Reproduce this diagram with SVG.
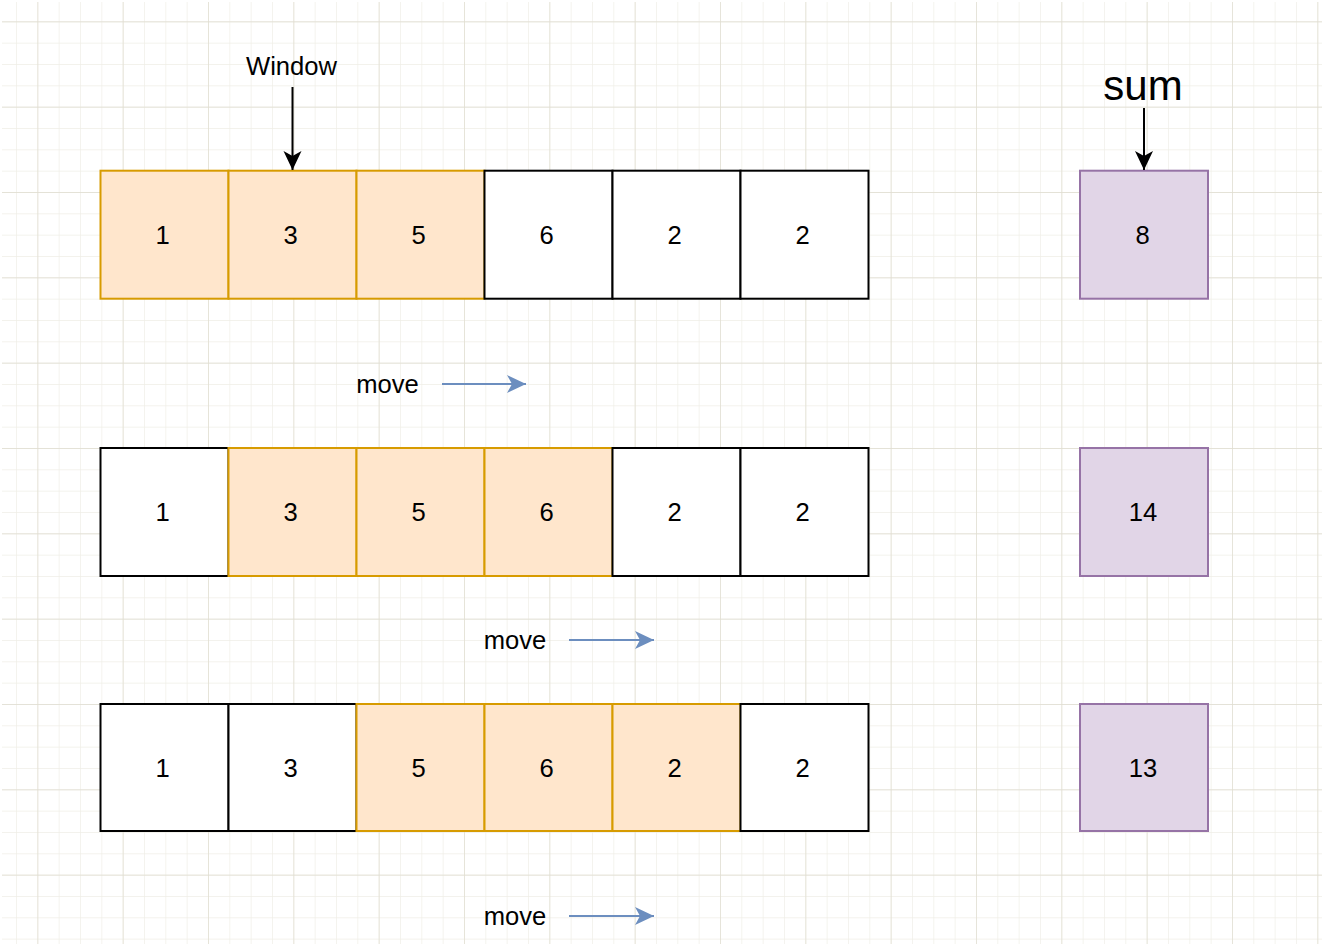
<svg xmlns="http://www.w3.org/2000/svg" width="1332" height="944" viewBox="0 0 1332 944">
  <defs>
    <pattern id="minor" x="37.33" y="21.33" width="21.333" height="21.333" patternUnits="userSpaceOnUse">
      <path d="M0 0 V21.333 M0 0 H21.333" fill="none" stroke="#efeee6" stroke-width="1.3"/>
    </pattern>
    <pattern id="major" x="37.33" y="21.33" width="85.333" height="85.333" patternUnits="userSpaceOnUse">
      <path d="M0 0 V85.333 M0 0 H85.333" fill="none" stroke="#e0ddd1" stroke-width="1.4"/>
    </pattern>
    <marker id="blackHead" viewBox="0 0 20 20" refX="19" refY="10" markerWidth="20" markerHeight="20" markerUnits="userSpaceOnUse" orient="auto">
      <path d="M0 1 L19 10 L0 19 L5 10 Z" fill="#000"/>
    </marker>
    <marker id="blueHead" viewBox="0 0 20 20" refX="19" refY="10" markerWidth="20" markerHeight="20" markerUnits="userSpaceOnUse" orient="auto">
      <path d="M0 1 L19 10 L0 19 L5 10 Z" fill="#6c8ebf"/>
    </marker>
  </defs>
  <style>
    .win { fill: #ffe6cc; stroke: #d79b00; stroke-width: 2; }
    .cell { fill: #ffffff; stroke: #000000; stroke-width: 2; }
    .sum { fill: #e1d5e7; stroke: #9673a6; stroke-width: 2; }
    text { font-family: "Liberation Sans", Arial, Helvetica, sans-serif; fill: #000; }
    .num { font-size: 25.6px; text-anchor: middle; }
    .lbl { font-size: 25.6px; text-anchor: middle; }
    .big { font-size: 42px; text-anchor: middle; }
    .blk { stroke: #000; stroke-width: 2; fill: none; }
    .blu { stroke: #6c8ebf; stroke-width: 2; fill: none; }
  </style>
  <rect x="0" y="0" width="1332" height="944" fill="#ffffff"/>
  <rect x="2" y="2" width="1320" height="942" fill="url(#minor)"/>
  <rect x="2" y="2" width="1320" height="942" fill="url(#major)"/>

  <g id="row1">
    <g id="r1c1"><rect class="win" x="100.5" y="170.7" width="128" height="128"/><text class="num" x="162.5" y="244">1</text></g>
    <g id="r1c2"><rect class="win" x="228.5" y="170.7" width="128" height="128"/><text class="num" x="290.5" y="244">3</text></g>
    <g id="r1c3"><rect class="win" x="356.5" y="170.7" width="128" height="128"/><text class="num" x="418.5" y="244">5</text></g>
    <g id="r1c4"><rect class="cell" x="484.5" y="170.7" width="128" height="128"/><text class="num" x="546.5" y="244">6</text></g>
    <g id="r1c5"><rect class="cell" x="612.5" y="170.7" width="128" height="128"/><text class="num" x="674.5" y="244">2</text></g>
    <g id="r1c6"><rect class="cell" x="740.5" y="170.7" width="128" height="128"/><text class="num" x="802.5" y="244">2</text></g>
  </g>
  <g id="row2">
    <g id="r2c1"><rect class="cell" x="100.5" y="448" width="128" height="128"/><text class="num" x="162.5" y="521">1</text></g>
    <g id="r2c2"><rect class="win" x="228.5" y="448" width="128" height="128"/><text class="num" x="290.5" y="521">3</text></g>
    <g id="r2c3"><rect class="win" x="356.5" y="448" width="128" height="128"/><text class="num" x="418.5" y="521">5</text></g>
    <g id="r2c4"><rect class="win" x="484.5" y="448" width="128" height="128"/><text class="num" x="546.5" y="521">6</text></g>
    <g id="r2c5"><rect class="cell" x="612.5" y="448" width="128" height="128"/><text class="num" x="674.5" y="521">2</text></g>
    <g id="r2c6"><rect class="cell" x="740.5" y="448" width="128" height="128"/><text class="num" x="802.5" y="521">2</text></g>
  </g>
  <g id="row3">
    <g id="r3c1"><rect class="cell" x="100.5" y="704" width="128" height="127"/><text class="num" x="162.5" y="777">1</text></g>
    <g id="r3c2"><rect class="cell" x="228.5" y="704" width="128" height="127"/><text class="num" x="290.5" y="777">3</text></g>
    <g id="r3c3"><rect class="win" x="356.5" y="704" width="128" height="127"/><text class="num" x="418.5" y="777">5</text></g>
    <g id="r3c4"><rect class="win" x="484.5" y="704" width="128" height="127"/><text class="num" x="546.5" y="777">6</text></g>
    <g id="r3c5"><rect class="win" x="612.5" y="704" width="128" height="127"/><text class="num" x="674.5" y="777">2</text></g>
    <g id="r3c6"><rect class="cell" x="740.5" y="704" width="128" height="127"/><text class="num" x="802.5" y="777">2</text></g>
  </g>
  <g id="sums">
    <g id="sum1"><rect class="sum" x="1080" y="170.7" width="128" height="128"/><text class="num" x="1142.5" y="244">8</text></g>
    <g id="sum2"><rect class="sum" x="1080" y="448" width="128" height="128"/><text class="num" x="1143" y="521">14</text></g>
    <g id="sum3"><rect class="sum" x="1080" y="704" width="128" height="127"/><text class="num" x="1143" y="777">13</text></g>
  </g>
  <g id="labels">
    <text class="lbl" x="291.5" y="75">Window</text>
    <text class="big" x="1143" y="100">sum</text>
    <text class="lbl" x="387.5" y="393">move</text>
    <text class="lbl" x="515" y="649">move</text>
    <text class="lbl" x="515" y="925">move</text>
  </g>
  <g id="connectors">
    <line class="blk" x1="292.5" y1="87" x2="292.5" y2="170" marker-end="url(#blackHead)"/>
    <line class="blk" x1="1144" y1="108" x2="1144" y2="170" marker-end="url(#blackHead)"/>
    <line class="blu" x1="442" y1="384" x2="526" y2="384" marker-end="url(#blueHead)"/>
    <line class="blu" x1="569" y1="640" x2="654" y2="640" marker-end="url(#blueHead)"/>
    <line class="blu" x1="569" y1="916" x2="654" y2="916" marker-end="url(#blueHead)"/>
  </g>
</svg>
